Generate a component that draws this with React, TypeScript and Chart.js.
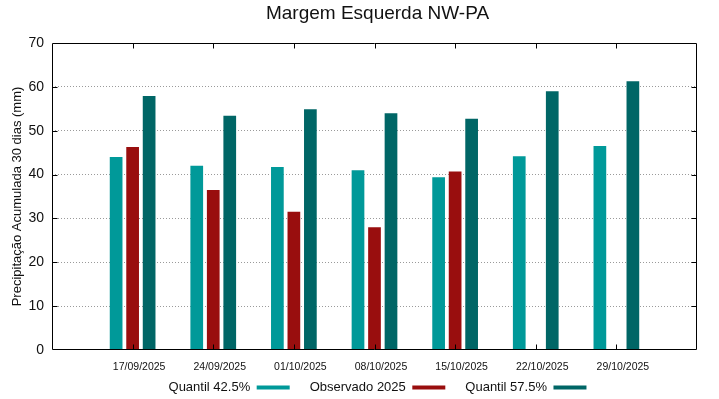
import React, { useEffect, useRef } from "react";
import { Chart, registerables } from "chart.js";

Chart.register(...registerables);

const dates = ["17/09/2025", "24/09/2025", "01/10/2025", "08/10/2025", "15/10/2025", "22/10/2025", "29/10/2025"];
const quantil425 = [44.0, 42.0, 41.7, 41.0, 39.4, 44.2, 46.5];
const observado2025: (number | null)[] = [46.3, 36.5, 31.5, 28.0, 40.7, null, null];
const quantil575 = [57.9, 53.4, 54.9, 54.0, 52.7, 59.0, 61.3];
const yTicks = [0, 10, 20, 30, 40, 50, 60, 70];

const FONT = "'Liberation Sans', Arial, sans-serif";

// one empty slot on each side, as in the reference
const labels = ["", ...dates, ""];
const pad = (a: (number | null)[]) => [null, ...a, null];

const framePlugin = {
  id: "frame",
  afterDatasetsDraw(chart: any) {
    const { ctx, chartArea, scales } = chart;
    const { left, right, top, bottom } = chartArea;
    const x = scales.x;
    const y = scales.y;
    ctx.save();
    ctx.strokeStyle = "#000";
    ctx.lineWidth = 1;
    ctx.beginPath();
    const L = Math.round(left) + 0.5, R = Math.round(right) - 0.5;
    const T = Math.round(top) + 0.5, B = Math.round(bottom) - 0.5;
    ctx.rect(L, T, R - L, B - T);
    y.ticks.forEach((t: any, i: number) => {
      if (t.value === yTicks[0] || t.value === yTicks[yTicks.length - 1]) return;
      const py = Math.round(y.getPixelForTick(i)) + 0.5;
      ctx.moveTo(L, py); ctx.lineTo(L + 5, py);
      ctx.moveTo(R, py); ctx.lineTo(R - 5, py);
    });
    x.ticks.forEach((t: any, i: number) => {
      if (!labels[i]) return;
      const px = Math.round(x.getPixelForTick(i)) + 0.5;
      ctx.moveTo(px, B); ctx.lineTo(px, B - 5);
      ctx.moveTo(px, T); ctx.lineTo(px, T + 5);
    });
    ctx.stroke();
    ctx.restore();
  },
};

export default function App() {
  const ref = useRef<HTMLCanvasElement | null>(null);

  useEffect(() => {
    if (!ref.current) return;
    const chart = new Chart(ref.current, {
      type: "bar",
      data: {
        labels,
        datasets: [
          { label: "Quantil 42.5%", data: pad(quantil425), backgroundColor: "#009999", borderWidth: 0 },
          { label: "Observado 2025", data: pad(observado2025), backgroundColor: "#990e0e", borderWidth: 0 },
          { label: "Quantil 57.5%", data: pad(quantil575), backgroundColor: "#006666", borderWidth: 0 },
        ],
      },
      options: {
        responsive: false,
        animation: false,
        events: [],
        datasets: { bar: { barPercentage: 0.77, categoryPercentage: 0.614 } },
        layout: { padding: 0 },
        plugins: {
          title: {
            display: true,
            text: "Margem Esquerda NW-PA",
            color: "#111",
            font: { family: FONT, size: 19, weight: "normal" },
            padding: { top: 2.6, bottom: 17.6 },
          },
          legend: {
            position: "bottom",
            rtl: true,
            reverse: true,
            textDirection: "ltr",
            title: { display: true, text: "", font: { size: 1 }, padding: { top: -14.2, bottom: 0 } },
            labels: {
              boxWidth: 33,
              boxHeight: 4,
              padding: 20,
              color: "#111",
              font: { family: FONT, size: 13 },
            },
          },
          tooltip: { enabled: false },
        },
        scales: {
          x: {
            type: "category",
            offset: false,
            grid: { display: false, drawTicks: false },
            border: { display: false },
            ticks: {
              autoSkip: false,
              maxRotation: 0,
              padding: 10.7,
              labelOffset: 6.5,
              color: "#111",
              font: { family: FONT, size: 10.5 },
            },
            afterFit: (s: any) => { s.height = 24; },
          },
          y: {
            position: "left",
            min: yTicks[0],
            max: yTicks[yTicks.length - 1],
            afterBuildTicks: (s: any) => { s.ticks = yTicks.map((v) => ({ value: v })); },
            grid: {
              drawTicks: false,
              color: (c: any) =>
                c.tick && (c.tick.value === yTicks[0] || c.tick.value === yTicks[yTicks.length - 1])
                  ? "rgba(0,0,0,0)"
                  : "#9a9a9a",
              lineWidth: 1,
            },
            border: { display: false, dash: [1, 2] },
            ticks: { padding: 8, color: "#111", font: { family: FONT, size: 14 } },
            title: {
              display: true,
              text: "Precipitação Acumulada 30 dias (mm)",
              color: "#111",
              font: { family: FONT, size: 13 },
              padding: { top: 9.2, bottom: 0 },
            },
            afterFit: (s: any) => { s.width = 52; },
          },
          y2: {
            position: "right",
            min: 0,
            max: 70,
            grid: { display: false, drawTicks: false },
            border: { display: false },
            ticks: { display: false },
            afterFit: (s: any) => { s.width = 58; },
          },
        },
      },
      plugins: [framePlugin],
    } as any);
    return () => chart.destroy();
  }, []);

  return (
    <div style={{ position: "absolute", left: 0, top: 0, width: 719, height: 399, overflow: "hidden", background: "#fff" }}>
      <canvas ref={ref} width={755} height={404} style={{ display: "block", width: 755, height: 404 }} />
    </div>
  );
}
